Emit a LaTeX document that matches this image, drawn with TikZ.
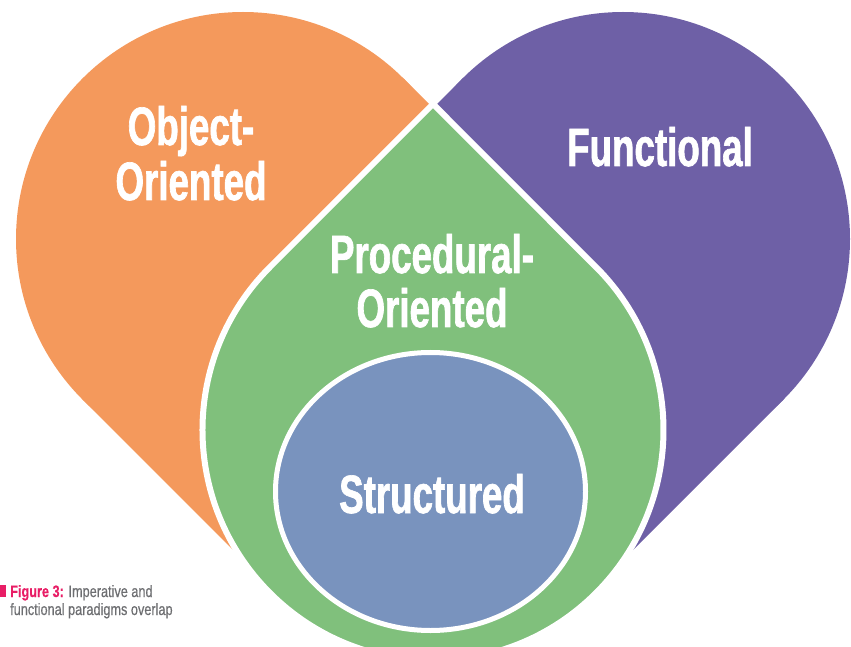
\documentclass[tikz,border=0pt]{standalone}
\usepackage{fontspec}
\newfontfamily\condfont[FakeStretch=0.68, BoldFeatures={FakeBold=1.2}]{Liberation Sans}
\newfontfamily\capfont[FakeStretch=0.77, FakeBold=0.5]{Liberation Sans}
\definecolor{orangeC}{RGB}{244,153,92}
\definecolor{purpleC}{RGB}{110,96,166}
\definecolor{greenC}{RGB}{128,192,124}
\definecolor{blueC}{RGB}{121,147,190}
\definecolor{pinkC}{RGB}{232,30,102}
\definecolor{greyC}{RGB}{109,110,113}
\begin{document}
\begin{tikzpicture}[x=1pt,y=1pt,
  lobetext/.style={text=white, font=\condfont\bfseries\fontsize{54}{54}\selectfont, inner sep=0pt, anchor=base},
  capt/.style={text=greyC, font=\capfont\fontsize{16.5}{18}\selectfont, inner sep=0pt, anchor=base west},
  outlined/.style={draw=white, line join=miter}]
\useasboundingbox (0,0) rectangle (851,646);
\clip (0,0) rectangle (851,646);
% orange lobe
\fill[orangeC] (243,407) circle[radius=227pt];
\fill[orangeC] (403.5,567.5) -- (433,538) -- (433,216) -- (273,56) -- (82.5,246.5) -- cycle;
% purple lobe
\fill[purpleC] (623,407) circle[radius=227pt];
\fill[purpleC] (462.5,567.5) -- (433,538) -- (433,216) -- (593,56) -- (783.5,246.5) -- cycle;
% green drop
\filldraw[fill=greenC, outlined, line width=6pt] (433,542) -- (270,379) arc[start angle=135,end angle=405,radius=230.5pt] -- cycle;
% blue ellipse
\filldraw[fill=blueC, outlined, line width=5pt] (430.5,154.5) ellipse[x radius=155pt, y radius=139pt];
% labels
\node[lobetext] (oo1) at (191,501) {Object-};
\node[lobetext] (oo2) at (191,446) {Oriented};
\node[lobetext] (fn) at (660,480) {Functional};
\node[lobetext] (po1) at (432,373) {Procedural-};
\node[lobetext] (po2) at (432,319) {Oriented};
\node[lobetext] (st) at (432,133) {Structured};
% caption
\fill[pinkC] (0,49) rectangle (6,61);
\node[capt] (cap1) at (10,49) {\textcolor{pinkC}{\bfseries Figure 3:} Imperative and};
\node[capt] (cap2) at (10,31) {functional paradigms overlap};
\end{tikzpicture}
\end{document}
